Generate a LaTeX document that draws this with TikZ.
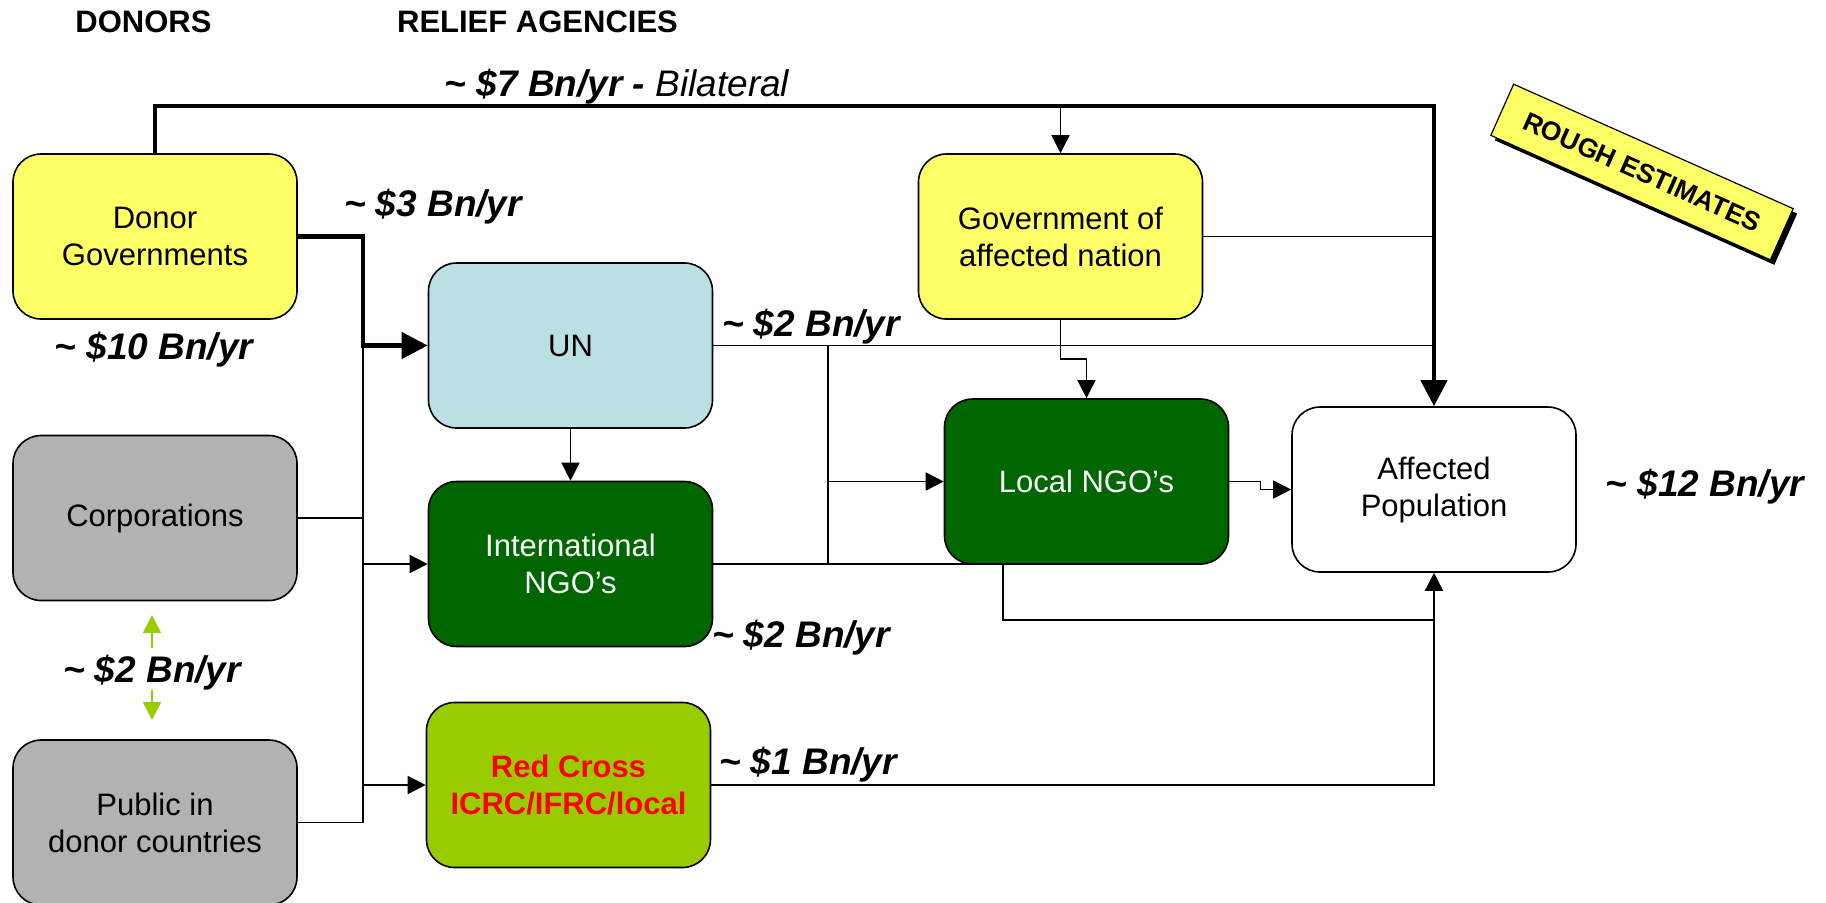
\documentclass[tikz,border=0pt]{standalone}
\usepackage{fontspec}
\setmainfont{Liberation Sans}
\usetikzlibrary{arrows.meta}
\definecolor{boxyellow}{HTML}{FFFF66}
\definecolor{unblue}{HTML}{BBE0E3}
\definecolor{darkgreen}{HTML}{006600}
\definecolor{limegreen}{HTML}{99CC00}
\definecolor{boxgray}{HTML}{B2B2B2}
\definecolor{rcred}{HTML}{FF0000}
\begin{document}
\begin{tikzpicture}[x=0.5pt,y=-0.5pt,
  flowbox/.style={draw=black, line width=0.8pt, rounded corners=14pt, minimum width=142pt, minimum height=82.5pt, inner sep=0pt, align=center, font=\fontsize{15.5}{18.5}\selectfont},
  amount/.style={font=\fontsize{18.5}{22}\selectfont\bfseries\itshape, inner sep=0pt},
  heading/.style={font=\fontsize{15.5}{18.5}\selectfont\bfseries, inner sep=0pt},
  thinline/.style={line width=0.8pt},
  thickline/.style={line width=2.2pt},
  thinarrow/.style={thinline, -{Triangle[length=9pt,width=9pt]}},
  thickarrow/.style={thickline, -{Triangle[length=13pt,width=13pt]}},
  greenarrow/.style={draw=limegreen, line width=0.8pt, -{Triangle[length=9pt,width=9pt]}}
]
\useasboundingbox (0,0) rectangle (1826,902);

% headings
\node[heading] (hdon) at (143.5,22) {DONORS};
\node[heading] (hrel) at (537.5,22) {RELIEF AGENCIES};

% boxes
\node[flowbox, fill=boxyellow] (DG) at (155,236.5) {Donor\\Governments};
\node[flowbox, fill=boxgray] (Corp) at (155,518) {Corporations};
\node[flowbox, fill=boxgray] (Pub) at (155,822.5) {Public in\\donor countries};
\node[flowbox, fill=unblue] (UN) at (570.5,345.5) {UN};
\node[flowbox, fill=darkgreen, text=white] (INGO) at (570.5,564) {International\\NGO’s};
\node[flowbox, fill=limegreen, text=rcred, font=\fontsize{15.5}{18.5}\selectfont\bfseries] (RC) at (568.5,785) {Red Cross\\ICRC/IFRC/local};
\node[flowbox, fill=boxyellow] (Gov) at (1060.5,236.5) {Government of\\affected nation};
\node[flowbox, fill=darkgreen, text=white] (LNGO) at (1086.5,481.5) {Local NGO’s};
\node[flowbox, fill=white] (AP) at (1434,489.5) {Affected\\Population};

% helper coordinates
\coordinate (btop) at (0,106);
\coordinate (busx) at (363,0);
\coordinate (vx) at (828,0);
\coordinate (lx) at (1003,620);
\coordinate (gy) at (0,359);

% bilateral
\draw[thickarrow] (DG.north) |- (btop -| AP.north) -- (AP.north);
\draw[thinarrow] (Gov.north |- btop) -- (Gov.north);

% donor governments to UN
\draw[thickarrow] (DG.east) -| (busx |- UN.west) -- (UN.west);

% left bus
\draw[thinline] (busx |- UN.west) -- (busx |- Pub.east);
\draw[thinline] (Corp.east) -- (busx |- Corp.east);
\draw[thinline] (Pub.east) -- (busx |- Pub.east);
\draw[thinarrow] (busx |- INGO.west) -- (INGO.west);
\draw[thinarrow] (busx |- RC.west) -- (RC.west);

% UN
\draw[thinarrow] (UN.south) -- (INGO.north);
\draw[thinline] (UN.east) -- (AP.north |- UN.east);
\draw[thinline] (vx |- UN.east) -- (vx |- INGO.east);
\draw[thinarrow] (vx |- LNGO.west) -- (LNGO.west);

% international NGOs and Red Cross to affected population
\draw[thinarrow] (INGO.east) -| (lx) -| (AP.south);
\draw[thinline] (RC.east) -| (lx -| AP.south);

% government of affected nation
\draw[thinline] (Gov.east) -- (AP.north |- Gov.east);
\draw[thinarrow] (Gov.south) |- (gy -| LNGO.north) -- (LNGO.north);

% local NGOs to affected population
\draw[thinarrow] (LNGO.east) -- ++(31,0) |- (AP.west);

% green double arrow
\coordinate (gu1) at (152,648);
\coordinate (gu2) at (152,615);
\coordinate (gd1) at (152,690);
\coordinate (gd2) at (152,720);
\draw[greenarrow] (gu1) -- (gu2);
\draw[greenarrow] (gd1) -- (gd2);

% amounts
\node[amount] (abil) at (617,87) {\textasciitilde\ \$7 Bn/yr - \textmd{Bilateral}};
\node[amount] (a3) at (433,207) {\textasciitilde\ \$3 Bn/yr};
\node[amount] (a10) at (154,350) {\textasciitilde\ \$10 Bn/yr};
\node[amount] (a2un) at (811,327) {\textasciitilde\ \$2 Bn/yr};
\node[amount] (a2ngo) at (801,638) {\textasciitilde\ \$2 Bn/yr};
\node[amount] (a1) at (808,765) {\textasciitilde\ \$1 Bn/yr};
\node[amount] (a2pub) at (152,673) {\textasciitilde\ \$2 Bn/yr};
\node[amount] (a12) at (1705,487) {\textasciitilde\ \$12 Bn/yr};

% rough estimates tag
\fill[black, rotate around={-24:(1646,177)}] (1493,149) rectangle (1799,205);
\node[rotate=-24, draw=black, line width=0.6pt, fill=boxyellow, minimum width=153pt, minimum height=28pt, inner sep=0pt, font=\fontsize{13.3}{15}\selectfont\bfseries] (rough) at (1642,172) {ROUGH ESTIMATES};
\end{tikzpicture}
\end{document}
